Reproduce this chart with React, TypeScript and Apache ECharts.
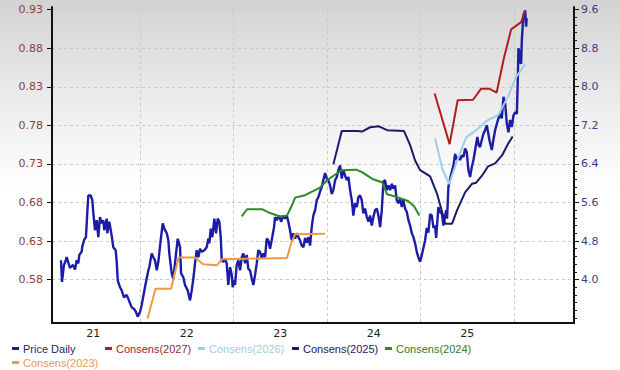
import React, { useEffect, useRef } from "react";
import * as echarts from "echarts";

// [decimal year, value]
const priceDaily: [number, number][] = [
  [2021.155, 0.605], [2021.166, 0.577], [2021.187, 0.599], [2021.198, 0.602], [2021.216, 0.609],
  [2021.251, 0.595], [2021.283, 0.599], [2021.305, 0.593], [2021.323, 0.605], [2021.34, 0.601],
  [2021.351, 0.612], [2021.376, 0.616], [2021.382, 0.622], [2021.404, 0.632], [2021.422, 0.635],
  [2021.436, 0.666], [2021.447, 0.689], [2021.473, 0.689], [2021.49, 0.683], [2021.501, 0.666],
  [2021.519, 0.644], [2021.537, 0.657], [2021.554, 0.635], [2021.572, 0.661], [2021.59, 0.653],
  [2021.607, 0.657], [2021.618, 0.644], [2021.644, 0.659], [2021.65, 0.64], [2021.672, 0.655],
  [2021.697, 0.637], [2021.714, 0.622], [2021.74, 0.618], [2021.751, 0.603], [2021.762, 0.579],
  [2021.786, 0.57], [2021.804, 0.566], [2021.829, 0.557], [2021.858, 0.56], [2021.875, 0.555],
  [2021.911, 0.544], [2021.936, 0.542], [2021.957, 0.538], [2021.975, 0.532], [2022.0, 0.538],
  [2022.018, 0.547], [2022.053, 0.57], [2022.089, 0.592], [2022.099, 0.596], [2022.125, 0.614],
  [2022.142, 0.609], [2022.16, 0.605], [2022.179, 0.592], [2022.196, 0.603], [2022.221, 0.631],
  [2022.243, 0.653], [2022.26, 0.646], [2022.286, 0.64], [2022.303, 0.631], [2022.313, 0.614],
  [2022.339, 0.588], [2022.356, 0.581], [2022.374, 0.601], [2022.399, 0.629], [2022.403, 0.633],
  [2022.428, 0.622], [2022.439, 0.588], [2022.463, 0.583], [2022.481, 0.573], [2022.51, 0.566],
  [2022.535, 0.553], [2022.553, 0.566], [2022.57, 0.581], [2022.588, 0.601], [2022.606, 0.618],
  [2022.624, 0.609], [2022.642, 0.62], [2022.66, 0.616], [2022.688, 0.618], [2022.713, 0.622],
  [2022.73, 0.633], [2022.741, 0.627], [2022.756, 0.646], [2022.773, 0.635], [2022.795, 0.659],
  [2022.813, 0.64], [2022.831, 0.659], [2022.848, 0.655], [2022.863, 0.635], [2022.874, 0.605],
  [2022.891, 0.603], [2022.909, 0.607], [2022.927, 0.601], [2022.944, 0.573], [2022.963, 0.596],
  [2022.981, 0.586], [2022.991, 0.57], [2023.009, 0.579], [2023.016, 0.573], [2023.034, 0.599],
  [2023.051, 0.605], [2023.07, 0.592], [2023.088, 0.609], [2023.105, 0.614], [2023.123, 0.601],
  [2023.141, 0.612], [2023.158, 0.594], [2023.176, 0.592], [2023.195, 0.581], [2023.212, 0.573],
  [2023.23, 0.586], [2023.248, 0.601], [2023.265, 0.618], [2023.283, 0.616], [2023.302, 0.607],
  [2023.319, 0.614], [2023.337, 0.609], [2023.355, 0.633], [2023.372, 0.631], [2023.39, 0.62],
  [2023.408, 0.631], [2023.433, 0.648], [2023.444, 0.661], [2023.462, 0.657], [2023.487, 0.663],
  [2023.508, 0.655], [2023.533, 0.663], [2023.551, 0.659], [2023.569, 0.663], [2023.586, 0.655],
  [2023.604, 0.644], [2023.622, 0.631], [2023.64, 0.64], [2023.658, 0.633], [2023.676, 0.64],
  [2023.693, 0.635], [2023.711, 0.631], [2023.729, 0.624], [2023.747, 0.622], [2023.765, 0.634],
  [2023.783, 0.628], [2023.8, 0.635], [2023.818, 0.624], [2023.836, 0.648], [2023.853, 0.663],
  [2023.872, 0.67], [2023.89, 0.683], [2023.907, 0.687], [2023.925, 0.694], [2023.943, 0.7],
  [2023.96, 0.709], [2023.979, 0.718], [2023.997, 0.711], [2024.014, 0.709], [2024.032, 0.702],
  [2024.05, 0.691], [2024.067, 0.696], [2024.086, 0.709], [2024.104, 0.713], [2024.121, 0.722],
  [2024.139, 0.728], [2024.157, 0.711], [2024.174, 0.722], [2024.192, 0.715], [2024.211, 0.709],
  [2024.228, 0.713], [2024.246, 0.696], [2024.264, 0.683], [2024.281, 0.663], [2024.299, 0.679],
  [2024.318, 0.674], [2024.335, 0.687], [2024.353, 0.689], [2024.371, 0.683], [2024.388, 0.666],
  [2024.406, 0.672], [2024.425, 0.661], [2024.442, 0.655], [2024.46, 0.663], [2024.478, 0.65],
  [2024.495, 0.661], [2024.513, 0.67], [2024.532, 0.672], [2024.549, 0.663], [2024.567, 0.648],
  [2024.585, 0.67], [2024.602, 0.707], [2024.62, 0.709], [2024.638, 0.696], [2024.656, 0.702],
  [2024.674, 0.696], [2024.692, 0.704], [2024.709, 0.698], [2024.727, 0.702], [2024.745, 0.683],
  [2024.763, 0.679], [2024.781, 0.685], [2024.799, 0.674], [2024.816, 0.683], [2024.834, 0.672],
  [2024.852, 0.668], [2024.87, 0.657], [2024.888, 0.65], [2024.906, 0.64], [2024.923, 0.635],
  [2024.941, 0.627], [2024.959, 0.616], [2024.976, 0.609], [2024.995, 0.603], [2025.013, 0.612],
  [2025.03, 0.621], [2025.048, 0.631], [2025.066, 0.647], [2025.083, 0.641], [2025.102, 0.665],
  [2025.12, 0.663], [2025.137, 0.647], [2025.155, 0.65], [2025.166, 0.634], [2025.19, 0.674],
  [2025.209, 0.667], [2025.227, 0.666], [2025.244, 0.65], [2025.273, 0.67], [2025.283, 0.659],
  [2025.297, 0.7], [2025.323, 0.715], [2025.351, 0.728], [2025.369, 0.743], [2025.387, 0.735],
  [2025.404, 0.739], [2025.422, 0.735], [2025.44, 0.741], [2025.458, 0.739], [2025.476, 0.75],
  [2025.494, 0.745], [2025.511, 0.722], [2025.529, 0.713], [2025.547, 0.726], [2025.565, 0.735],
  [2025.583, 0.748], [2025.607, 0.765], [2025.622, 0.754], [2025.636, 0.752], [2025.654, 0.761],
  [2025.672, 0.769], [2025.69, 0.774], [2025.708, 0.78], [2025.736, 0.761], [2025.761, 0.748],
  [2025.778, 0.761], [2025.797, 0.774], [2025.815, 0.782], [2025.832, 0.789], [2025.85, 0.795],
  [2025.868, 0.789], [2025.886, 0.817], [2025.904, 0.808], [2025.922, 0.782], [2025.939, 0.771],
  [2025.957, 0.787], [2025.975, 0.778], [2025.993, 0.793], [2026.011, 0.797], [2026.029, 0.795],
  [2026.039, 0.838], [2026.046, 0.88], [2026.057, 0.875], [2026.064, 0.862], [2026.075, 0.86],
  [2026.082, 0.89], [2026.099, 0.923], [2026.118, 0.929], [2026.128, 0.908], [2026.134, 0.919],
];

const consens2027: [number, number][] = [
  [2025.15, 7.86], [2025.31, 6.81], [2025.396, 7.72], [2025.561, 7.73], [2025.647, 7.96],
  [2025.733, 7.96], [2025.813, 7.88], [2025.888, 8.57], [2025.968, 9.19], [2026.075, 9.34],
  [2026.118, 9.58],
];

const consens2026: [number, number][] = [
  [2025.155, 6.93], [2025.23, 6.31], [2025.305, 5.98], [2025.38, 6.41], [2025.487, 6.95],
  [2025.594, 7.1], [2025.711, 7.3], [2025.829, 7.41], [2025.936, 7.8], [2026.021, 8.2],
  [2026.118, 8.47],
];

const consens2025: [number, number][] = [
  [2024.067, 6.39], [2024.157, 7.08], [2024.331, 7.08], [2024.374, 7.07], [2024.46, 7.16],
  [2024.556, 7.18], [2024.642, 7.1], [2024.823, 7.08], [2024.888, 6.79], [2024.941, 6.47],
  [2024.995, 6.27], [2025.102, 6.14], [2025.176, 5.78], [2025.23, 5.4], [2025.262, 5.16],
  [2025.337, 5.16], [2025.39, 5.44], [2025.476, 5.81], [2025.551, 5.99], [2025.594, 6.01],
  [2025.658, 6.16], [2025.722, 6.35], [2025.797, 6.41], [2025.872, 6.58], [2025.936, 6.82],
  [2025.984, 6.97],
];

const consens2024: [number, number][] = [
  [2023.088, 5.31], [2023.144, 5.46], [2023.305, 5.46], [2023.39, 5.38], [2023.497, 5.31],
  [2023.572, 5.33], [2023.615, 5.5], [2023.658, 5.7], [2023.765, 5.75], [2023.925, 5.91],
  [2024.0, 6.06], [2024.157, 6.27], [2024.31, 6.28], [2024.374, 6.23], [2024.492, 6.08],
  [2024.588, 6.02], [2024.642, 5.77], [2024.749, 5.71], [2024.866, 5.63], [2024.93, 5.52],
  [2024.987, 5.33],
];

const consens2023: [number, number][] = [
  [2022.08, 3.19], [2022.166, 3.81], [2022.332, 3.81], [2022.412, 4.46], [2022.588, 4.46],
  [2022.674, 4.32], [2022.824, 4.3], [2022.877, 4.42], [2023.572, 4.45], [2023.615, 4.75],
  [2023.658, 4.94], [2023.979, 4.95],
];

const leftTicks = [0.58, 0.63, 0.68, 0.73, 0.78, 0.83, 0.88, 0.93];
const rightTicks = [4.0, 4.8, 5.6, 6.4, 7.2, 8.0, 8.8, 9.6];
const yearLines = [2022, 2023, 2024, 2025, 2026];
const yearLabelPos = [2021.5, 2022.5, 2023.5, 2024.5, 2025.5];
const yearLabels = ["21", "22", "23", "24", "25"];

const seriesDefs = [
  { name: "Price Daily", data: priceDaily, color: "#1c1ca6", text: "#26266e", axis: 0, width: 2.4 },
  { name: "Consens(2027)", data: consens2027, color: "#b01e1e", text: "#9a2a2a", axis: 1, width: 2 },
  { name: "Consens(2026)", data: consens2026, color: "#9fd0e2", text: "#a3cde0", axis: 1, width: 2 },
  { name: "Consens(2025)", data: consens2025, color: "#1b1b6c", text: "#20205a", axis: 1, width: 2 },
  { name: "Consens(2024)", data: consens2024, color: "#2a8a2a", text: "#2e7d2e", axis: 1, width: 2 },
  { name: "Consens(2023)", data: consens2023, color: "#ec9a42", text: "#e39a55", axis: 1, width: 2 },
];

const legendPos = [
  { left: 12, top: 343 },
  { left: 105, top: 343 },
  { left: 198, top: 343 },
  { left: 292, top: 343 },
  { left: 385, top: 343 },
  { left: 12, top: 357 },
];

export default function App() {
  const ref = useRef<HTMLDivElement>(null);
  useEffect(() => {
    document.body.style.margin = "0";
    const chart = echarts.init(ref.current!, null, { renderer: "svg" });
    const axisFont = "DejaVu Sans";
    const minorRight: number[] = [];
    for (let i = 0; i <= 40; i++) minorRight.push(Math.round((3.2 + i * 0.16) * 100) / 100);
    const gridLine = { show: true, lineStyle: { color: "#cacaca", type: [3, 3] as any, width: 1 } };
    chart.setOption({
      animation: false,
      grid: { left: 52, right: 46, top: 7, bottom: 47 },
      xAxis: {
        type: "value",
        min: 2021.059,
        max: 2026.64,
        axisLine: { show: true, lineStyle: { color: "#111", width: 2 } },
        axisTick: { show: false, customValues: yearLines },
        splitLine: gridLine,
        axisLabel: {
          customValues: yearLabelPos,
          formatter: (v: number) => yearLabels[yearLabelPos.indexOf(v)] ?? "",
          color: "#222",
          fontFamily: axisFont,
          fontSize: 11,
          margin: 5,
        },
      },
      yAxis: [
        {
          type: "value",
          position: "left",
          min: 0.5237,
          max: 0.9334,
          axisLine: { show: true, lineStyle: { color: "#111", width: 2 } },
          axisTick: { show: true, customValues: leftTicks, length: 5, lineStyle: { color: "#111" } },
          splitLine: gridLine,
          axisLabel: {
            customValues: leftTicks,
            formatter: (v: number) => v.toFixed(2),
            color: "#8e3b3b",
            fontFamily: axisFont,
            fontSize: 11,
            margin: 9,
          },
        },
        {
          type: "value",
          position: "right",
          min: 3.1,
          max: 9.654,
          axisLine: { show: true, lineStyle: { color: "#111", width: 2 } },
          axisTick: { show: true, customValues: rightTicks, length: 5, lineStyle: { color: "#111" } },
          splitLine: { show: false },
          axisLabel: {
            customValues: rightTicks,
            formatter: (v: number) => v.toFixed(1),
            color: "#3b3b8a",
            fontFamily: axisFont,
            fontSize: 11,
            margin: 7,
          },
        },
        {
          type: "value",
          position: "right",
          min: 3.1,
          max: 9.654,
          axisLine: { show: false },
          axisTick: { show: true, customValues: minorRight, length: 3, lineStyle: { color: "#111" } },
          splitLine: { show: false },
          axisLabel: { show: false },
        },
      ],
      legend: seriesDefs.map((s, i) => ({
        data: [{ name: s.name, textStyle: { color: s.text } }],
        left: legendPos[i].left,
        top: legendPos[i].top,
        padding: 0,
        icon: "rect",
        itemWidth: 7,
        itemHeight: 3,
        itemGap: 0,
        selectedMode: false,
        textStyle: { fontFamily: "Liberation Sans", fontSize: 11, padding: [0, 0, 0, -1] },
      })),
      series: seriesDefs.map((s) => ({
        name: s.name,
        type: "line",
        yAxisIndex: s.axis,
        data: s.data,
        showSymbol: false,
        symbol: "none",
        color: s.color,
        lineStyle: { color: s.color, width: s.width },
        z: s.axis === 0 ? 2 : 3,
      })),
    });
    return () => chart.dispose();
  }, []);
  return (
    <div
      ref={ref}
      style={{
        width: 620,
        height: 370,
        background: "linear-gradient(to bottom, #d3d3d3 0%, #eeeeee 30%, #ffffff 52%, #ffffff 100%)",
      }}
    />
  );
}
